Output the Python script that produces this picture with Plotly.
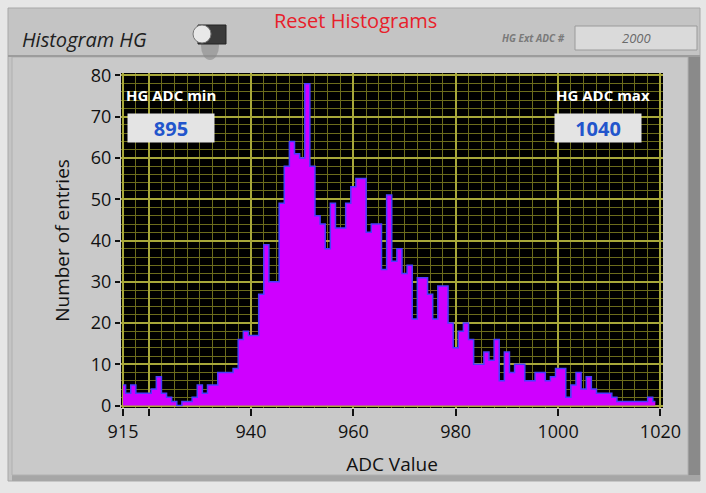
import plotly.graph_objects as go

# ---------------- data ----------------
adc_start = 915
counts = [5, 3, 5, 3, 3, 3, 4, 7, 3, 2,          # 915-924
          1, 0, 1, 1, 2, 5, 3, 5, 5, 8,          # 925-934
          8, 8, 9, 16, 18, 17, 17, 27, 39, 30,   # 935-944
          30, 49, 58, 64, 61, 60, 78, 58, 46, 44,  # 945-954
          38, 49, 43, 43, 49, 53, 55, 55, 42, 44,  # 955-964
          44, 33, 51, 35, 38, 32, 34, 21, 31, 31,  # 965-974
          27, 21, 29, 29, 20, 14, 18, 20, 16, 10,  # 975-984
          10, 13, 11, 16, 6, 13, 8, 10, 10, 6,     # 985-994
          6, 8, 8, 6, 7, 9, 9, 2, 5, 8,            # 995-1004
          4, 7, 4, 3, 3, 3, 2, 1, 1, 1,            # 1005-1014
          1, 1, 1, 2, 1]                           # 1015-1019
adc_values = [adc_start + i for i in range(len(counts))]

x_tickvals = [915, 920, 940, 960, 980, 1000, 1020]
x_ticktext = ["915", "", "940", "960", "980", "1000", "1020"]
y_tickvals = [0, 10, 20, 30, 40, 50, 60, 70, 80]

adc_min_label, adc_min_value = "HG ADC min", "895"
adc_max_label, adc_max_value = "HG ADC max", "1040"
ext_adc_label, ext_adc_value = "HG Ext ADC #", "2000"

# ---------------- figure ----------------
W, H = 706, 493
ML, MR, MT, MB = 121, 43, 73, 85
PW, PH = W - ML - MR, H - MT - MB

def px(x):
    return (x - ML) / PW

def py(y):
    return (H - MB - y) / PH

FONT = "Open Sans"

fig = go.Figure()
fig.add_trace(go.Scatter(
    x=adc_values, y=counts, mode="lines",
    line=dict(color="#4a3cff", width=1.5, shape="hvh"),
    fill="tozeroy", fillcolor="#cf00ff", hoverinfo="skip", showlegend=False))

shapes = []
# outer LabVIEW panel
shapes.append(dict(type="rect", xref="paper", yref="paper", layer="below",
                   x0=px(8), x1=px(700), y0=py(8), y1=py(481),
                   fillcolor="#c4c4c4", line=dict(color="#a8a8a8", width=1)))
# right shadow
shapes.append(dict(type="rect", xref="paper", yref="paper", layer="below",
                   x0=px(688), x1=px(700), y0=py(56), y1=py(481),
                   fillcolor="#8a8a8a", line=dict(width=0)))
# bottom shadow
shapes.append(dict(type="rect", xref="paper", yref="paper", layer="below",
                   x0=px(12), x1=px(700), y0=py(475), y1=py(481),
                   fillcolor="#a6a6a6", line=dict(width=0)))
# inner graph panel
shapes.append(dict(type="rect", xref="paper", yref="paper", layer="below",
                   x0=px(12), x1=px(688), y0=py(57), y1=py(475),
                   fillcolor="#c9c9c9", line=dict(color="#b0b0b0", width=1)))
# top separator line
shapes.append(dict(type="line", xref="paper", yref="paper", layer="below",
                   x0=px(8), x1=px(700), y0=py(56), y1=py(56),
                   line=dict(color="#9c9c9c", width=2)))
# ext ADC box
shapes.append(dict(type="rect", xref="paper", yref="paper", layer="below",
                   x0=px(575), x1=px(697), y0=py(26), y1=py(50),
                   fillcolor="#dadada", line=dict(color="#9a9a9a", width=1)))
# toggle switch
shapes.append(dict(type="circle", xref="paper", yref="paper", layer="below",
                   x0=px(201), x1=px(219), y0=py(32), y1=py(60),
                   fillcolor="#8a8a8a", line=dict(width=0), opacity=0.6))
shapes.append(dict(type="rect", xref="paper", yref="paper", layer="below",
                   x0=px(198), x1=px(226), y0=py(25), y1=py(44),
                   fillcolor="#3a3a3a", line=dict(color="#222222", width=1)))
shapes.append(dict(type="circle", xref="paper", yref="paper", layer="below",
                   x0=px(193), x1=px(211), y0=py(25), y1=py(43),
                   fillcolor="#e8e8e8", line=dict(color="#777777", width=1)))
# black plot area (drawn over the panel, under grid and data)
shapes.append(dict(type="rect", xref="paper", yref="paper", layer="below",
                   x0=0, x1=1, y0=0, y1=1,
                   fillcolor="#000000", line=dict(width=0)))

annotations = [
    dict(text="<i>Histogram HG</i>", x=px(20), y=py(40), xref="paper", yref="paper",
         xanchor="left", yanchor="middle", showarrow=False,
         font=dict(family=FONT, size=20, color="#202020")),
    dict(text="Reset Histograms", x=px(355), y=py(21), xref="paper", yref="paper",
         xanchor="center", yanchor="middle", showarrow=False,
         font=dict(family=FONT, size=20, color="#e8202a")),
    dict(text="<b><i>" + ext_adc_label + "</i></b>", x=px(567), y=py(38), xref="paper", yref="paper",
         xanchor="right", yanchor="middle", showarrow=False,
         font=dict(family=FONT, size=10, color="#7a7a7a")),
    dict(text="<i>" + ext_adc_value + "</i>", x=px(636), y=py(38), xref="paper", yref="paper",
         xanchor="center", yanchor="middle", showarrow=False,
         font=dict(family=FONT, size=13, color="#6a6a6a")),
    dict(text="<b>" + adc_min_label + "</b>", x=px(124), y=py(95), xref="paper", yref="paper",
         xanchor="left", yanchor="middle", showarrow=False,
         font=dict(family=FONT, size=15, color="#ffffff")),
    dict(text="<b>" + adc_min_value + "</b>", x=px(171), y=py(128), xref="paper", yref="paper",
         xanchor="center", yanchor="middle", showarrow=False, width=84, height=26,
         bgcolor="#e4e4e4", font=dict(family=FONT, size=20, color="#2255cc")),
    dict(text="<b>" + adc_max_label + "</b>", x=px(652), y=py(95), xref="paper", yref="paper",
         xanchor="right", yanchor="middle", showarrow=False,
         font=dict(family=FONT, size=15, color="#ffffff")),
    dict(text="<b>" + adc_max_value + "</b>", x=px(598), y=py(128), xref="paper", yref="paper",
         xanchor="center", yanchor="middle", showarrow=False, width=84, height=26,
         bgcolor="#e4e4e4", font=dict(family=FONT, size=20, color="#2255cc")),
]

fig.update_layout(
    width=W, height=H,
    margin=dict(l=ML, r=MR, t=MT, b=MB),
    paper_bgcolor="#e6e6e6", plot_bgcolor="#000000",
    shapes=shapes, annotations=annotations,
    font=dict(family=FONT, size=17, color="#111111"),
    xaxis=dict(range=[914.6, 1020.5], tickmode="array", tickvals=x_tickvals,
               ticktext=x_ticktext, ticks="outside", ticklen=7, tickwidth=2,
               tickcolor="#111111", showline=False, zeroline=False,
               showgrid=True, gridcolor="#a8a83a", gridwidth=1.5,
               minor=dict(tickmode="linear", tick0=920, dtick=2.5, showgrid=True,
                          gridcolor="#6c6c1c", gridwidth=1),
               title=dict(text="ADC Value", font=dict(size=19), standoff=16),
               tickfont=dict(size=18)),
    yaxis=dict(range=[-0.6, 80.6], tickmode="array", tickvals=y_tickvals,
               ticks="outside", ticklen=5, tickwidth=1.5, tickcolor="#111111",
               showline=False, zeroline=False,
               showgrid=True, gridcolor="#a8a83a", gridwidth=1.5,
               minor=dict(tickmode="linear", tick0=0, dtick=2, showgrid=True,
                          gridcolor="#6c6c1c", gridwidth=1),
               title=dict(text="Number of entries", font=dict(size=19), standoff=16),
               tickfont=dict(size=18)),
)

fig.write_html("out.html")
